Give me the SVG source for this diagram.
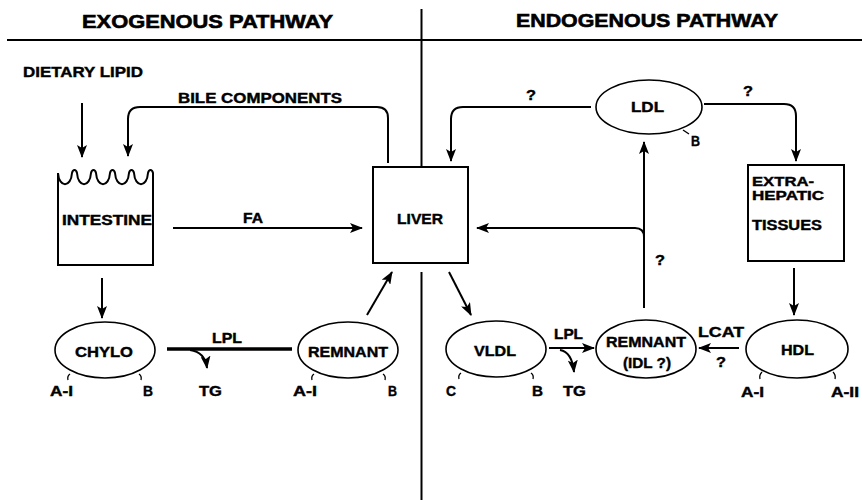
<svg xmlns="http://www.w3.org/2000/svg" width="862" height="500" viewBox="0 0 862 500">
<style>
text{font-family:"Liberation Sans",Arial,sans-serif;font-weight:bold;font-size:14px;fill:#000;stroke:#000;stroke-width:0.4}
.h{font-size:19px;stroke-width:0.6}
.s{font-size:13px}
.ln{fill:none;stroke:#000;stroke-width:2}
.th{fill:none;stroke:#000;stroke-width:3.5}
.ar{marker-end:url(#ah)}
.box{fill:#fff;stroke:#000;stroke-width:2}
.ell{fill:#fff;stroke:#000;stroke-width:1.6}
.tk{fill:none;stroke:#000;stroke-width:1.3}
</style>
<defs>
<marker id="ah" viewBox="0 0 13 10" refX="12" refY="5" markerWidth="13" markerHeight="10" markerUnits="userSpaceOnUse" orient="auto">
<path d="M0,0 L13,5 L0,10 L3,5 Z" fill="#000"/>
</marker>
</defs>
<rect width="862" height="500" fill="#fff"/>
<g id="frame">
<line x1="7" y1="40" x2="862" y2="40" stroke="#000" stroke-width="2"/>
<line x1="421.5" y1="9" x2="421.5" y2="167" stroke="#000" stroke-width="2"/>
<line x1="421.5" y1="272" x2="421.5" y2="500" stroke="#000" stroke-width="2"/>
<text class="h" x="82" y="28" textLength="251" lengthAdjust="spacingAndGlyphs">EXOGENOUS PATHWAY</text>
<text class="h" x="516" y="27" textLength="262" lengthAdjust="spacingAndGlyphs">ENDOGENOUS PATHWAY</text>
</g>
<g id="connectors">
<path class="ln ar" d="M82,103 L82,157"/>
<path class="ln ar" d="M388,163 L388,118 Q388,107 377,107 L140,107 Q128,107 128,119 L128,156"/>
<path class="ln ar" d="M173,228 L362,228"/>
<path class="ln ar" d="M102,278 L102,318"/>
<path class="th" d="M167,349 L292,349"/>
<path class="ln ar" d="M190,350 Q205,352 207,368"/>
<path class="ln ar" d="M367,315 L392,272"/>
<path class="ln ar" d="M449,272 L471,315"/>
<path class="ln ar" d="M549,348 L594,348"/>
<path class="ln ar" d="M560,350 Q572,352 574,372"/>
<path class="ln ar" d="M739,348 L699,348"/>
<path class="ln ar" d="M644,308 L644,142"/>
<path class="ln ar" d="M644,237 Q644,228 635,228 L477,228"/>
<path class="ln ar" d="M591,107 L463,107 Q451,107 451,119 L451,161"/>
<path class="ln ar" d="M704,104 L784,104 Q796,104 796,116 L796,161"/>
<path class="ln ar" d="M794,268 L794,315"/>
</g>
<g id="dietary-lipid"><text x="23" y="77" textLength="120" lengthAdjust="spacingAndGlyphs">DIETARY LIPID</text></g>
<g id="bile-label"><text x="178" y="103" textLength="164" lengthAdjust="spacingAndGlyphs">BILE COMPONENTS</text></g>
<g id="fa-label"><text x="243" y="223" textLength="20" lengthAdjust="spacingAndGlyphs">FA</text></g>
<g id="intestine">
<path class="box" d="M58,265 L58,173 c1,15 13,15 14,0 c1,-4 4,-4 5,0 c1,15 13,15 14,0 c1,-4 4,-4 5,0 c1,15 13,15 14,0 c1,-4 4,-4 5,0 c1,15 13,15 14,0 c1,-4 4,-4 5,0 c1,15 13,15 14,0 c1,-4 4,-4 5,0 L153,265 Z"/>
<text x="62" y="225" textLength="90" lengthAdjust="spacingAndGlyphs">INTESTINE</text>
</g>
<g id="liver">
<rect class="box" x="373" y="167" width="95" height="96"/>
<text x="397" y="224" textLength="46" lengthAdjust="spacingAndGlyphs">LIVER</text>
</g>
<g id="ldl">
<ellipse class="ell" cx="649" cy="107" rx="53" ry="27"/>
<text x="631" y="112" textLength="33" lengthAdjust="spacingAndGlyphs">LDL</text>
<path class="tk" d="M683,130 L689,134"/>
<text x="691" y="146" textLength="9" lengthAdjust="spacingAndGlyphs">B</text>
<text x="526" y="100" textLength="10" lengthAdjust="spacingAndGlyphs">?</text>
<text x="743" y="96" textLength="10" lengthAdjust="spacingAndGlyphs">?</text>
</g>
<g id="extrahepatic">
<rect class="box" x="748" y="165" width="96" height="96"/>
<text class="s" x="752" y="186" textLength="62" lengthAdjust="spacingAndGlyphs">EXTRA-</text>
<text class="s" x="752" y="200" textLength="72" lengthAdjust="spacingAndGlyphs">HEPATIC</text>
<text x="752" y="230" textLength="70" lengthAdjust="spacingAndGlyphs">TISSUES</text>
</g>
<g id="q-mid"><text x="655" y="265" textLength="10" lengthAdjust="spacingAndGlyphs">?</text></g>
<g id="chylo">
<ellipse class="ell" cx="105" cy="350" rx="50" ry="28"/>
<text x="75" y="357" textLength="58" lengthAdjust="spacingAndGlyphs">CHYLO</text>
<path class="tk" d="M70,374 Q67,376 68,380"/>
<path class="tk" d="M139,374 Q142,376 141,380"/>
<text x="50" y="396" textLength="23" lengthAdjust="spacingAndGlyphs">A-I</text>
<text x="143" y="396" textLength="10" lengthAdjust="spacingAndGlyphs">B</text>
</g>
<g id="lpl-1">
<text x="212" y="343" textLength="30" lengthAdjust="spacingAndGlyphs">LPL</text>
<text x="199" y="396" textLength="23" lengthAdjust="spacingAndGlyphs">TG</text>
</g>
<g id="remnant">
<ellipse class="ell" cx="348" cy="350" rx="50" ry="28"/>
<text x="308" y="357" textLength="80" lengthAdjust="spacingAndGlyphs">REMNANT</text>
<path class="tk" d="M314,374 Q311,376 312,380"/>
<path class="tk" d="M383,374 Q386,376 385,380"/>
<text x="293" y="396" textLength="24" lengthAdjust="spacingAndGlyphs">A-I</text>
<text x="388" y="396" textLength="9" lengthAdjust="spacingAndGlyphs">B</text>
</g>
<g id="vldl">
<ellipse class="ell" cx="496" cy="349" rx="50" ry="28"/>
<text x="474" y="356" textLength="42" lengthAdjust="spacingAndGlyphs">VLDL</text>
<path class="tk" d="M461,373 Q458,375 459,379"/>
<path class="tk" d="M531,373 Q534,375 533,379"/>
<text x="446" y="396" textLength="10" lengthAdjust="spacingAndGlyphs">C</text>
<text x="532" y="396" textLength="11" lengthAdjust="spacingAndGlyphs">B</text>
</g>
<g id="lpl-2">
<text x="554" y="339" textLength="29" lengthAdjust="spacingAndGlyphs">LPL</text>
<text x="563" y="396" textLength="23" lengthAdjust="spacingAndGlyphs">TG</text>
</g>
<g id="remnant-idl">
<ellipse class="ell" cx="646" cy="349" rx="50" ry="29"/>
<text x="606" y="347" textLength="80" lengthAdjust="spacingAndGlyphs">REMNANT</text>
<text x="623" y="368" textLength="48" lengthAdjust="spacingAndGlyphs">(IDL ?)</text>
</g>
<g id="lcat">
<text x="698" y="337" textLength="46" lengthAdjust="spacingAndGlyphs">LCAT</text>
<text x="716" y="367" textLength="10" lengthAdjust="spacingAndGlyphs">?</text>
</g>
<g id="hdl">
<ellipse class="ell" cx="797" cy="349" rx="51" ry="29"/>
<text x="781" y="355" textLength="33" lengthAdjust="spacingAndGlyphs">HDL</text>
<path class="tk" d="M762,372 Q759,375 760,379"/>
<path class="tk" d="M833,372 Q836,375 835,379"/>
<text x="741" y="397" textLength="23" lengthAdjust="spacingAndGlyphs">A-I</text>
<text x="831" y="397" textLength="28" lengthAdjust="spacingAndGlyphs">A-II</text>
</g>
</svg>
